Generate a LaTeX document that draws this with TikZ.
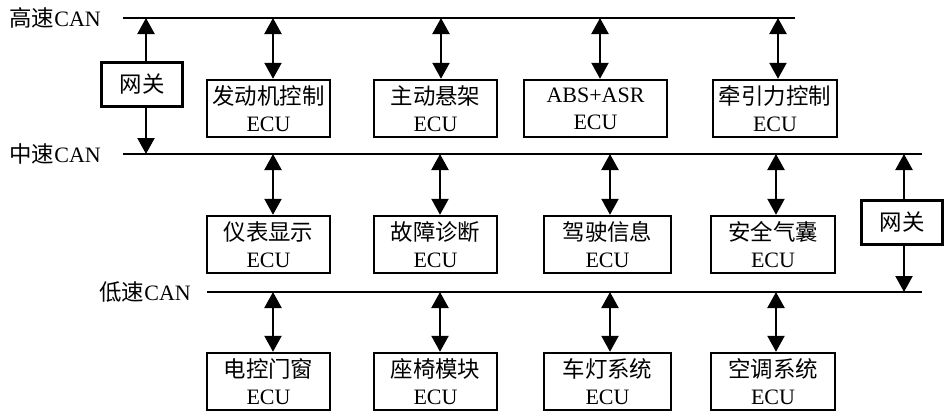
\documentclass[tikz,border=0pt]{standalone}
\usepackage{fontspec}
\setmainfont{Liberation Serif}
\newfontfamily\cjk[Scale=1.02]{Noto Sans CJK SC}
\usetikzlibrary{arrows.meta}
\begin{document}
\begin{tikzpicture}[x=1pt,y=-1pt,
  bus/.style={line width=2.2pt},
  box/.style={draw, line width=2.4pt, inner sep=0pt, align=center, minimum height=57pt,
    font=\fontsize{22}{27}\selectfont},
  gw/.style={draw, line width=2.4pt, inner sep=0pt, align=center, minimum height=44pt, minimum width=81pt,
    font=\fontsize{22}{27}\selectfont},
  biarrow/.style={line width=2.2pt, {Triangle[width=17pt,length=16pt]}-{Triangle[width=17pt,length=16pt]}},
  onearrow/.style={line width=2.2pt, -{Triangle[width=17pt,length=16pt]}},
  lbl/.style={anchor=east, inner sep=0pt, font=\fontsize{22}{24}\selectfont}]
\useasboundingbox (0,0) rectangle (947,415);
% buses
\coordinate (hs0) at (123,18);  \coordinate (hs1) at (795,18);
\coordinate (ms0) at (123,154); \coordinate (ms1) at (922,154);
\coordinate (ls0) at (207,292); \coordinate (ls1) at (922,292);
\draw[bus] (hs0) -- (hs1);
\draw[bus] (ms0) -- (ms1);
\draw[bus] (ls0) -- (ls1);
\node[lbl] (lhs) at (101,18) {{\cjk 高速}CAN};
\node[lbl] (lms) at (101,154) {{\cjk 中速}CAN};
\node[lbl] (lls) at (191,292) {{\cjk 低速}CAN};
% row 1
\node[box, minimum width=123pt] (eng) at (268.5,108.5) {{\cjk 发动机控制}\\ECU};
\node[box, minimum width=123pt] (sus) at (435.5,108.5) {{\cjk 主动悬架}\\ECU};
\node[box, minimum width=143pt] (abs) at (595.5,108.5) {ABS+ASR\\ECU};
\node[box, minimum width=124pt] (tra) at (775,108.5) {{\cjk 牵引力控制}\\ECU};
% row 2
\node[box, minimum width=123pt] (ins) at (268.5,244.5) {{\cjk 仪表显示}\\ECU};
\node[box, minimum width=123pt] (dia) at (435.5,244.5) {{\cjk 故障诊断}\\ECU};
\node[box, minimum width=127pt] (drv) at (607.5,244.5) {{\cjk 驾驶信息}\\ECU};
\node[box, minimum width=124pt] (air) at (773,244.5) {{\cjk 安全气囊}\\ECU};
% row 3
\node[box, minimum width=123pt] (win) at (268.5,381.5) {{\cjk 电控门窗}\\ECU};
\node[box, minimum width=123pt] (sea) at (435.5,381.5) {{\cjk 座椅模块}\\ECU};
\node[box, minimum width=127pt] (lig) at (607.5,381.5) {{\cjk 车灯系统}\\ECU};
\node[box, minimum width=124pt] (ac)  at (773,381.5) {{\cjk 空调系统}\\ECU};
% gateways
\node[gw] (gw1) at (142,84.5) {\cjk 网关};
\node[gw] (gw2) at (902,222.5) {\cjk 网关};
% bus taps
\coordinate (h1) at (273,18);  \coordinate (h2) at (441,18);
\coordinate (h3) at (600,18);  \coordinate (h4) at (778,18);
\coordinate (m1) at (273,154); \coordinate (m2) at (440,154);
\coordinate (m3) at (610,154); \coordinate (m4) at (776,154);
\coordinate (l1) at (273,292); \coordinate (l2) at (440,292);
\coordinate (l3) at (610,292); \coordinate (l4) at (776,292);
\coordinate (g1h) at (146,18); \coordinate (g1m) at (146,154);
\coordinate (g2m) at (904,154); \coordinate (g2l) at (904,292);
\draw[biarrow] (h1) -- (h1 |- eng.north);
\draw[biarrow] (h2) -- (h2 |- sus.north);
\draw[biarrow] (h3) -- (h3 |- abs.north);
\draw[biarrow] (h4) -- (h4 |- tra.north);
\draw[biarrow] (m1) -- (m1 |- ins.north);
\draw[biarrow] (m2) -- (m2 |- dia.north);
\draw[biarrow] (m3) -- (m3 |- drv.north);
\draw[biarrow] (m4) -- (m4 |- air.north);
\draw[biarrow] (l1) -- (l1 |- win.north);
\draw[biarrow] (l2) -- (l2 |- sea.north);
\draw[biarrow] (l3) -- (l3 |- lig.north);
\draw[biarrow] (l4) -- (l4 |- ac.north);
\draw[onearrow] (g1h |- gw1.north) -- (g1h);
\draw[onearrow] (g1m |- gw1.south) -- (g1m);
\draw[onearrow] (g2m |- gw2.north) -- (g2m);
\draw[onearrow] (g2l |- gw2.south) -- (g2l);
\end{tikzpicture}
\end{document}
